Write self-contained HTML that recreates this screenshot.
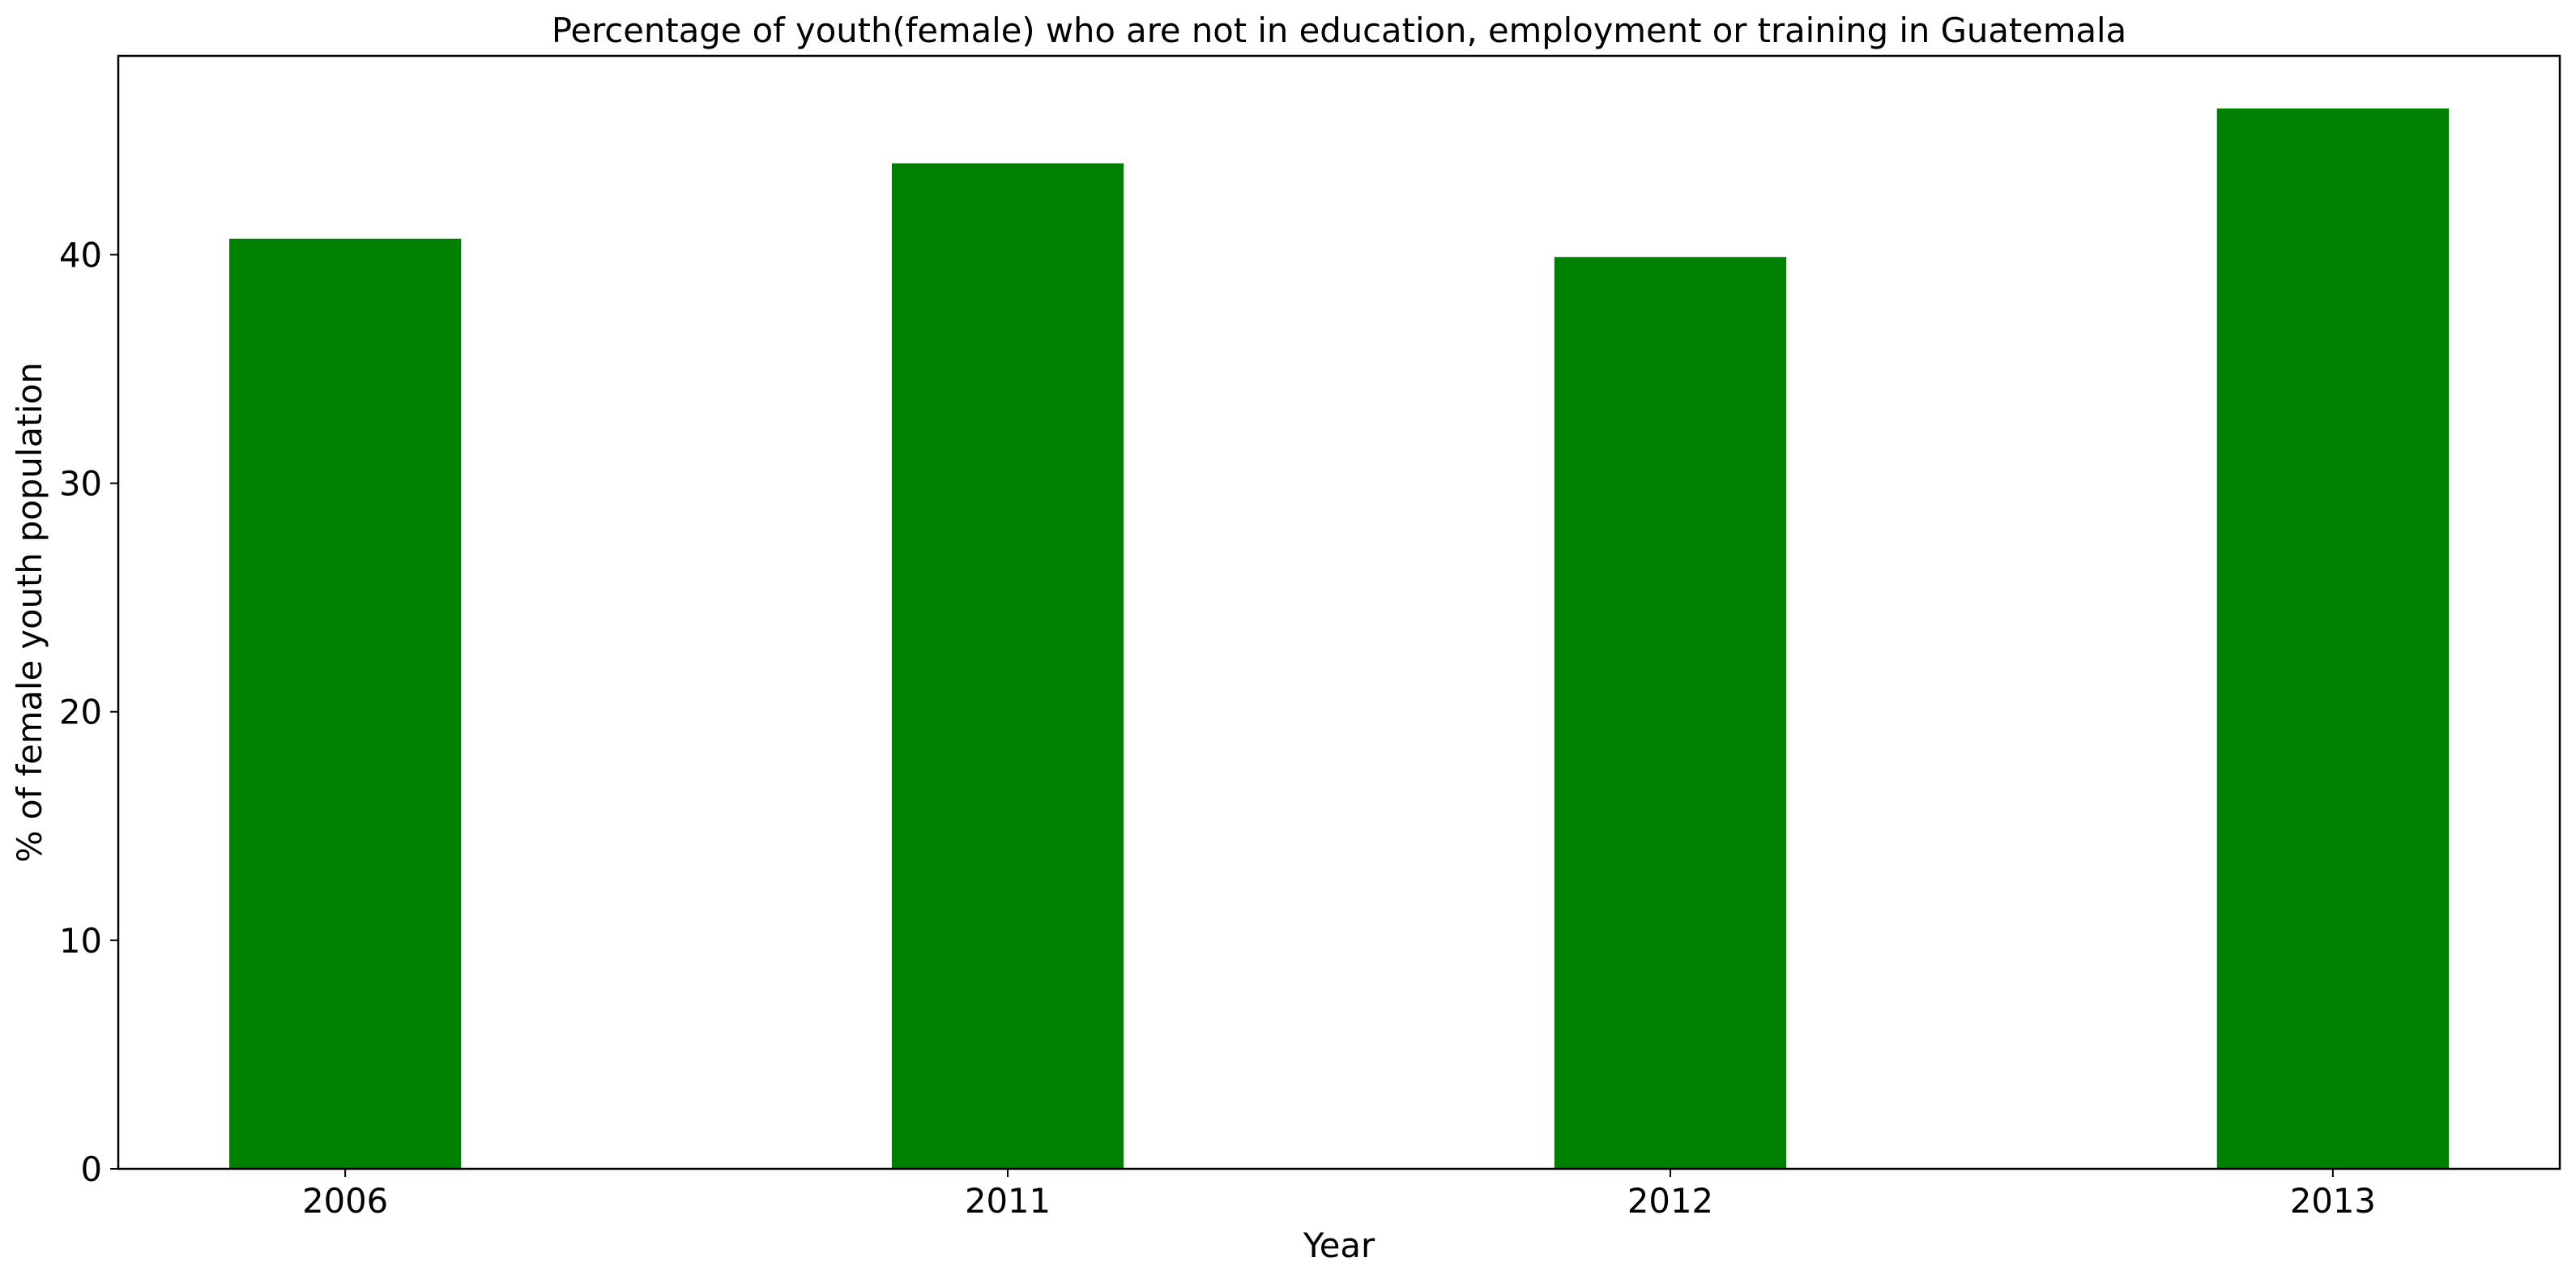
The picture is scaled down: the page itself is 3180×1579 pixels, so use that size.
<!DOCTYPE html>
<html><head><meta charset="utf-8"><style>
html,body{margin:0;padding:0;background:#fff;}
svg{display:block;font-family:"DejaVu Sans","Liberation Sans",sans-serif;}
</style></head><body>
<svg id="chart" width="3180" height="1579" viewBox="0 0 3180 1579" xmlns="http://www.w3.org/2000/svg">
<rect width="3180" height="1579" fill="#fff"/>
<text x="1653" y="52" font-size="41.7" text-anchor="middle" fill="#000">Percentage of youth(female) who are not in education, employment or training in Guatemala</text>
<g id="bars"></g>
<g id="axes"></g>
<text x="1653" y="1552" font-size="41.7" text-anchor="middle" fill="#000">Year</text>
<text transform="translate(51,756) rotate(-90)" font-size="41.7" text-anchor="middle" fill="#000">% of female youth population</text>
</svg>
<script>
const categories = ["2006", "2011", "2012", "2013"];
const values = [40.7, 44.0, 39.9, 46.4];
const yTicks = [0, 10, 20, 30, 40];

const L = 146, R = 3160, T = 69, B = 1443;
const xMin = -0.3425, xMax = 3.3425;
const yMax = 48.7;
const barW = 0.35;
const NS = "http://www.w3.org/2000/svg";
function xs(v){ return L + (v - xMin) / (xMax - xMin) * (R - L); }
function ys(v){ return B - v / yMax * (B - T); }

const bars = document.getElementById("bars");
const axes = document.getElementById("axes");
categories.forEach((c, i) => {
  const r = document.createElementNS(NS, "rect");
  r.setAttribute("x", xs(i - barW/2));
  r.setAttribute("width", xs(i + barW/2) - xs(i - barW/2));
  r.setAttribute("y", ys(values[i]));
  r.setAttribute("height", ys(0) - ys(values[i]));
  r.setAttribute("fill", "#008000");
  
  
  bars.appendChild(r);
  const t = document.createElementNS(NS, "line");
  t.setAttribute("x1", xs(i)); t.setAttribute("x2", xs(i));
  t.setAttribute("y1", B); t.setAttribute("y2", B + 10);
  t.setAttribute("stroke", "#000"); t.setAttribute("stroke-width", "2");
  
  
  axes.appendChild(t);
  const l = document.createElementNS(NS, "text");
  l.setAttribute("x", xs(i)); l.setAttribute("y", B + 54);
  l.setAttribute("font-size", "41.7"); l.setAttribute("text-anchor", "middle");
  l.textContent = c;
  
  
  axes.appendChild(l);
});
yTicks.forEach(v => {
  const t = document.createElementNS(NS, "line");
  t.setAttribute("x1", L - 10); t.setAttribute("x2", L);
  t.setAttribute("y1", ys(v)); t.setAttribute("y2", ys(v));
  t.setAttribute("stroke", "#000"); t.setAttribute("stroke-width", "2");
  
  
  axes.appendChild(t);
  const l = document.createElementNS(NS, "text");
  l.setAttribute("x", L - 20); l.setAttribute("y", ys(v) + 15);
  l.setAttribute("font-size", "41.7"); l.setAttribute("text-anchor", "end");
  l.textContent = v;
  
  
  axes.appendChild(l);
});
const frame = document.createElementNS(NS, "rect");
frame.setAttribute("x", L); frame.setAttribute("y", T);
frame.setAttribute("width", R - L); frame.setAttribute("height", B - T);
frame.setAttribute("fill", "none"); frame.setAttribute("stroke", "#000"); frame.setAttribute("stroke-width", "2.5");


axes.appendChild(frame);
</script>
</body></html>
